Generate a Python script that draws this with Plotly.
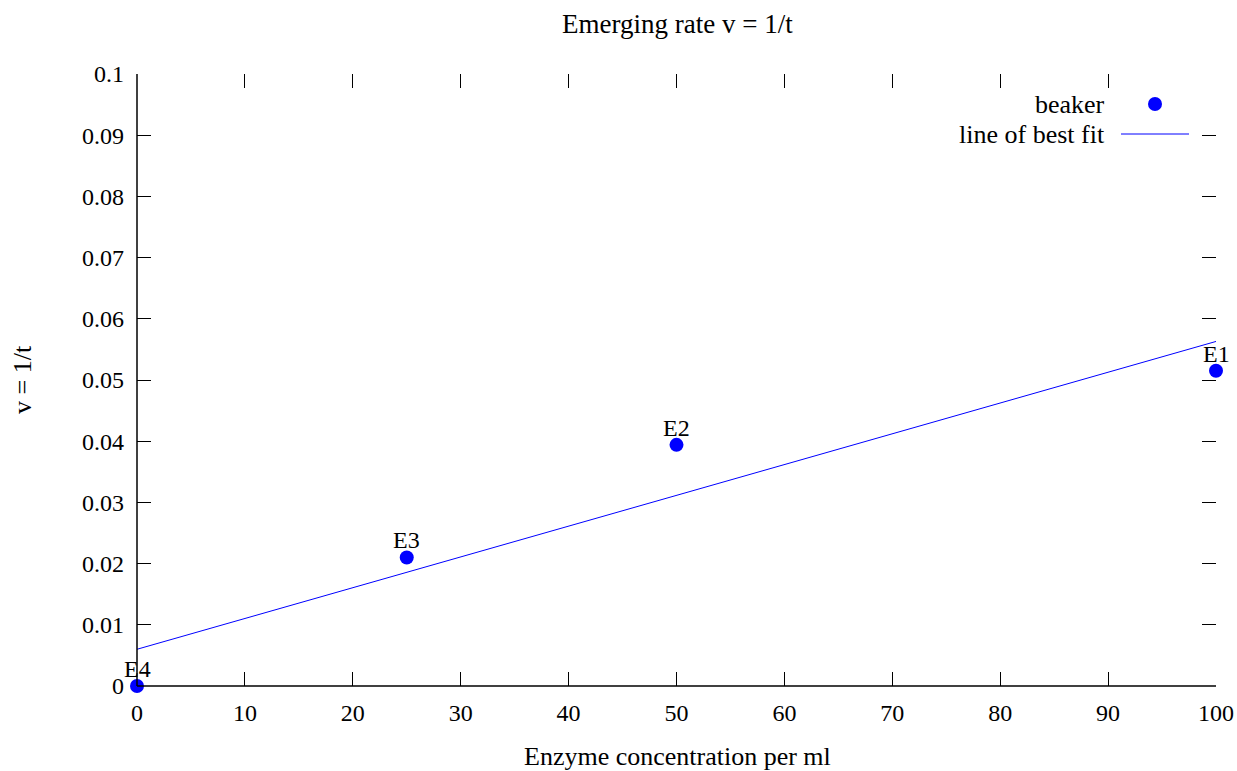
import plotly.graph_objects as go

# Measured beaker rates
enzyme_conc = [100, 50, 25, 0]
rate = [0.0515, 0.0394, 0.021, 0.0]
beaker_labels = ["E1", "E2", "E3", "E4"]

# Line of best fit (end points)
fit_x = [0, 100]
fit_y = [0.006, 0.0563]

x_ticks = [0, 10, 20, 30, 40, 50, 60, 70, 80, 90, 100]
y_ticks = [0, 0.01, 0.02, 0.03, 0.04, 0.05, 0.06, 0.07, 0.08, 0.09, 0.1]
y_tick_text = ["0", "0.01", "0.02", "0.03", "0.04", "0.05", "0.06", "0.07", "0.08", "0.09", "0.1"]

FONT = "Liberation Serif"
BLUE = "#0000ff"
TXT = dict(family=FONT, size=24, color="black")
WORDS = dict(family=FONT, size=26, color="black")
TITLE = dict(family=FONT, size=27, color="black")

# Plot-area geometry in pixels
W, H = 1237, 771
L, R, T, B = 137, 21, 74, 85
PW, PH = W - L - R, H - T - B


def px(xp):
    return (xp - L) / PW


def py(yp):
    return (H - B - yp) / PH


fig = go.Figure()

fig.add_trace(go.Scatter(
    x=fit_x, y=fit_y, mode="lines",
    line=dict(color=BLUE, width=1),
    name="line of best fit", showlegend=False, hoverinfo="skip",
))

fig.add_trace(go.Scatter(
    x=enzyme_conc, y=rate, mode="markers",
    marker=dict(color=BLUE, size=14),
    name="beaker", showlegend=False, cliponaxis=False,
))

# Beaker labels above each point
for xv, yv, lab in zip(enzyme_conc, rate, beaker_labels):
    fig.add_annotation(x=xv, y=yv, text=lab, showarrow=False,
                       xanchor="center", yanchor="middle", yshift=17, font=TXT)

axis_common = dict(
    showgrid=False, zeroline=False, showline=False, automargin=False,
    ticks="inside", ticklen=14, tickwidth=1, tickcolor="black",
    mirror="ticks", tickfont=TXT,
)

fig.update_xaxes(range=[0, 100], tickvals=x_ticks, ticktext=[str(v) for v in x_ticks],
                 ticklabelstandoff=10, **axis_common)
fig.update_yaxes(range=[0, 0.1], tickvals=y_ticks, ticktext=y_tick_text,
                 ticklabelstandoff=12, **axis_common)

# Bottom and left border lines
fig.add_shape(type="line", xref="paper", yref="paper", x0=0, x1=1, y0=0, y1=0,
              line=dict(color="black", width=1.5), layer="above")
fig.add_shape(type="line", xref="paper", yref="paper", x0=0, x1=0, y0=0, y1=1,
              line=dict(color="black", width=1.5), layer="above")

# Axis titles and chart title
fig.add_annotation(xref="paper", yref="paper", x=px(677), y=py(756), text="Enzyme concentration per ml",
                   showarrow=False, xanchor="center", yanchor="middle", font=WORDS)
fig.add_annotation(xref="paper", yref="paper", x=px(22), y=py(380), text="v = 1/t", textangle=-90,
                   showarrow=False, xanchor="center", yanchor="middle", font=WORDS)
fig.add_annotation(xref="paper", yref="paper", x=px(677), y=py(24), text="Emerging rate v = 1/t",
                   showarrow=False, xanchor="center", yanchor="middle", font=TITLE)

# Key in the top-right corner: text right-aligned, sample on its right
fig.add_annotation(xref="paper", yref="paper", x=px(1107), y=py(104), text="beaker",
                   showarrow=False, xanchor="right", yanchor="middle", font=WORDS)
fig.add_annotation(xref="paper", yref="paper", x=px(1107), y=py(134), text="line of best fit",
                   showarrow=False, xanchor="right", yanchor="middle", font=WORDS)
fig.add_shape(type="circle", xref="paper", yref="paper",
              x0=px(1155 - 7), x1=px(1155 + 7), y0=py(104 + 7), y1=py(104 - 7),
              fillcolor=BLUE, line=dict(color=BLUE, width=0))
fig.add_shape(type="line", xref="paper", yref="paper",
              x0=px(1121), x1=px(1189), y0=py(134), y1=py(134),
              line=dict(color=BLUE, width=1))

fig.update_layout(
    width=W, height=H,
    margin=dict(l=L, r=R, t=T, b=B),
    paper_bgcolor="white", plot_bgcolor="white",
    showlegend=False,
)

fig.write_html("out.html")
